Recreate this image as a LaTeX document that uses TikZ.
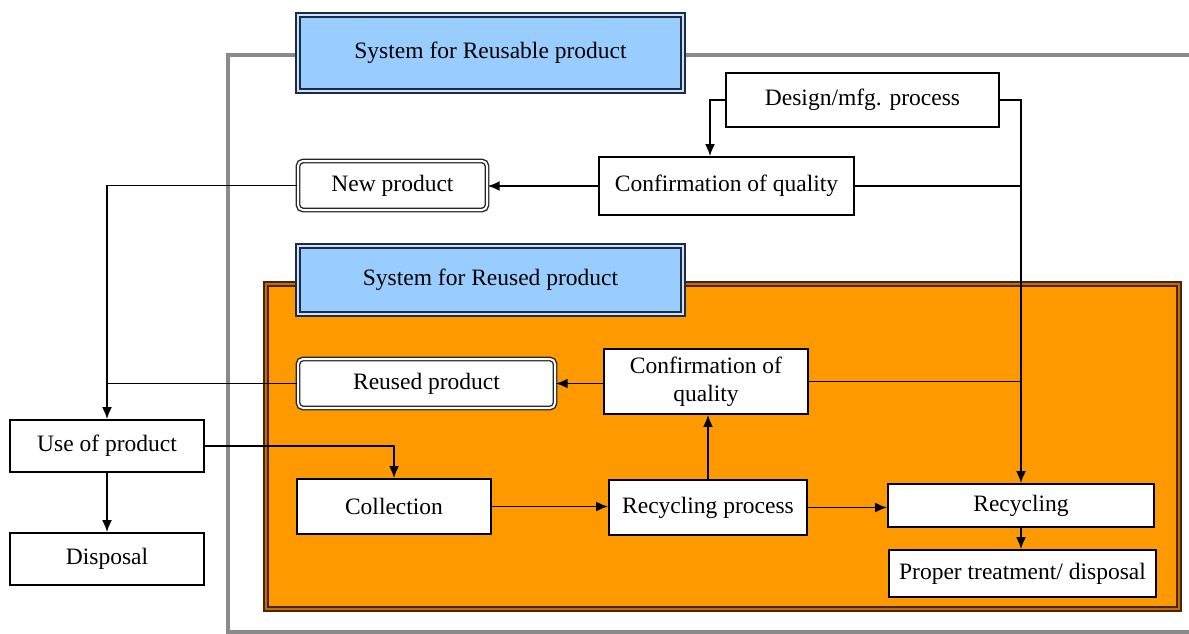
\documentclass[tikz,border=0pt]{standalone}
\usepackage{fontspec}
\setmainfont{Liberation Serif}
\usetikzlibrary{arrows.meta}
\definecolor{hdrblue}{HTML}{99CCFF}
\definecolor{hdrline}{HTML}{1F2A44}
\definecolor{orng}{HTML}{FF9900}
\definecolor{brn}{HTML}{4A2408}
\definecolor{frame}{HTML}{8A8A8A}
\tikzset{
  box/.style={draw=black, line width=1.8pt, fill=white, inner sep=0pt, align=center,
    font=\fontsize{23.5}{27}\selectfont},
  hdr/.style={draw=hdrline, line width=1.8pt, double=hdrblue!55!white, double distance=2pt,
    fill=hdrblue, inner sep=0pt, font=\fontsize{23.5}{27}\selectfont},
  prod/.style={draw=black!85, line width=1.4pt, double=white, double distance=2pt,
    rounded corners=5pt, fill=white, inner sep=0pt, font=\fontsize{23.5}{27}\selectfont},
  arr/.style={line width=1.8pt, -{Latex[length=12pt,width=10pt]}},
  ln/.style={line width=1.8pt},
}
\begin{document}
\begin{tikzpicture}[x=1pt,y=-1pt]
\useasboundingbox (0,0) rectangle (1189,634);
% gray frame
\draw[frame, line width=4.5pt] (1189,55) -- (228,55) -- (228,632) -- (1189,632);
% orange area
\draw[draw=brn, line width=1.8pt, double=brn!35!orng, double distance=1.8pt, fill=orng]
  (266,284) rectangle (1179,609);
% headers
\node[hdr, minimum width=385pt, minimum height=76pt] (h1) at (490.5,53) {System for Reusable product};
\node[hdr, minimum width=385pt, minimum height=68pt] (h2) at (490.5,280) {System for Reused product};
% nodes
\node[box, minimum width=273pt, minimum height=54pt] (design) at (862.5,100) {Design/mfg. process};
\node[box, minimum width=255pt, minimum height=58pt] (conf1) at (726.5,186) {Confirmation of quality};
\node[prod, minimum width=189pt, minimum height=49pt] (newp) at (392.5,185.5) {New product};
\node[prod, minimum width=257pt, minimum height=49pt] (reused) at (426.5,383.5) {Reused product};
\node[box, minimum width=204pt, minimum height=65pt, font=\fontsize{23.5}{28}\selectfont] (conf2) at (706,381.5) {Confirmation of\\quality};
\node[box, minimum width=194pt, minimum height=52pt] (use) at (107,446) {Use of product};
\node[box, minimum width=194pt, minimum height=52pt] (disp) at (107,559) {Disposal};
\node[box, minimum width=194pt, minimum height=55pt] (coll) at (394,506.5) {Collection};
\node[box, minimum width=198pt, minimum height=55pt] (rproc) at (708,507.5) {Recycling process};
\node[box, minimum width=266pt, minimum height=43pt] (recyc) at (1021,505.5) {Recycling};
\node[box, minimum width=267pt, minimum height=47pt] (ptd) at (1022.5,573.5) {Proper treatment/ disposal};
% connectors
\draw[arr] (design.west) -| ([xshift=-16.5pt]conf1.north);
\draw[arr] (design.east) -| (recyc.north);
\draw[ln] (conf1.east) -- (conf1.east -| recyc.north);
\draw[ln] (conf2.east) -- (conf2.east -| recyc.north);
\draw[arr] (conf1.west) -- (conf1.west -| newp.east);
\draw[arr] (newp.west) -| (use.north);
\draw[ln] (reused.west) -- (reused.west -| use.north);
\draw[arr] (reused.east -| conf2.west) -- (reused.east);
\draw[arr] (rproc.north) -- (rproc.north |- conf2.south);
\draw[arr] (use.east) -| (coll.north);
\draw[arr] (coll.east) -- (coll.east -| rproc.west);
\draw[arr] (rproc.east) -- (rproc.east -| recyc.west);
\draw[arr] (recyc.south) -- (recyc.south |- ptd.north);
\draw[arr] (use.south) -- (disp.north);
\end{tikzpicture}
\end{document}
